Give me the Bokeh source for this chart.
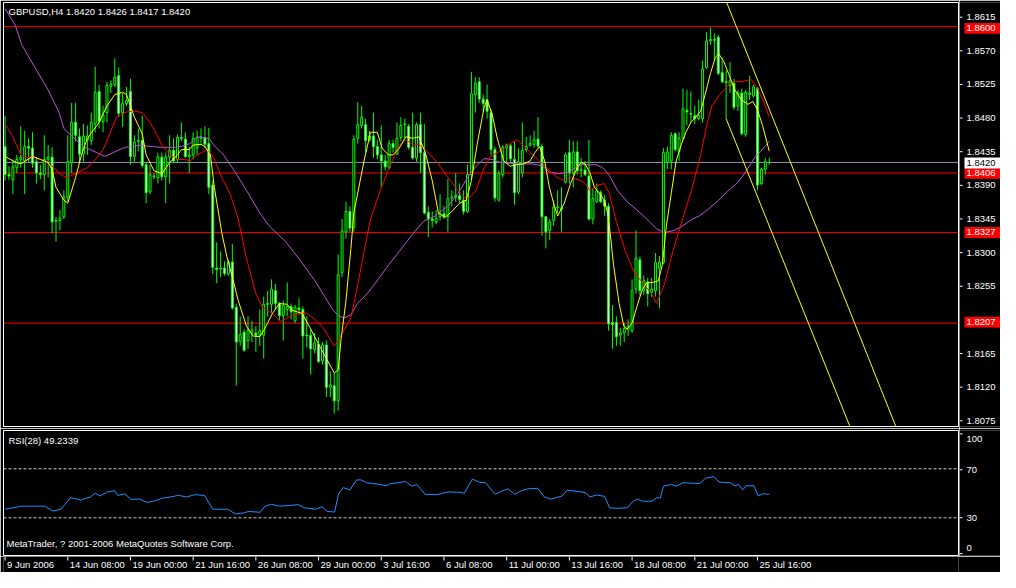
from bokeh.plotting import figure
from bokeh.models import Range1d, Span, Label, ColumnDataSource
from bokeh.layouts import column, row
from bokeh.core.properties import value
from bokeh.embed import file_html
from bokeh.resources import INLINE

# ---------------- data (GBPUSD H4) ----------------
bar_open = [
    1.8441, 1.8404, 1.8397, 1.8413, 1.8424, 1.8422, 1.8441, 1.8439, 1.8421, 1.8406,
    1.8404, 1.8424, 1.8427, 1.8342, 1.8343, 1.8348, 1.8374, 1.8420, 1.8473, 1.8454,
    1.8431, 1.8450, 1.8449, 1.8471, 1.8514, 1.8474, 1.8486, 1.8521, 1.8523, 1.8535,
    1.8486, 1.8498, 1.8514, 1.8428, 1.8448, 1.8449, 1.8417, 1.8381, 1.8401, 1.8400,
    1.8427, 1.8401, 1.8427, 1.8436, 1.8424, 1.8453, 1.8451, 1.8428, 1.8430, 1.8439,
    1.8452, 1.8453, 1.8445, 1.8390, 1.8280, 1.8279, 1.8280, 1.8272, 1.8288, 1.8228,
    1.8183, 1.8195, 1.8184, 1.8194, 1.8194, 1.8191, 1.8191, 1.8232, 1.8232, 1.8250,
    1.8233, 1.8217, 1.8225, 1.8229, 1.8210, 1.8227, 1.8225, 1.8191, 1.8191, 1.8172,
    1.8179, 1.8157, 1.8178, 1.8122, 1.8124, 1.8104, 1.8274, 1.8328, 1.8355, 1.8334,
    1.8452, 1.8469, 1.8470, 1.8450, 1.8455, 1.8441, 1.8430, 1.8422, 1.8413, 1.8445,
    1.8431, 1.8453, 1.8470, 1.8468, 1.8440, 1.8426, 1.8470, 1.8433, 1.8354, 1.8345,
    1.8341, 1.8348, 1.8352, 1.8348, 1.8373, 1.8374, 1.8376, 1.8370, 1.8355, 1.8404,
    1.8510, 1.8527, 1.8504, 1.8503, 1.8486, 1.8437, 1.8370, 1.8404, 1.8439, 1.8442,
    1.8424, 1.8381, 1.8406, 1.8437, 1.8443, 1.8444, 1.8451, 1.8441, 1.8348, 1.8330,
    1.8343, 1.8360, 1.8358, 1.8394, 1.8433, 1.8406, 1.8434, 1.8409, 1.8410, 1.8402,
    1.8345, 1.8368, 1.8380, 1.8370, 1.8362, 1.8208, 1.8208, 1.8191, 1.8194, 1.8199,
    1.8197, 1.8252, 1.8291, 1.8250, 1.8261, 1.8248, 1.8250, 1.8280, 1.8287, 1.8420,
    1.8422, 1.8458, 1.8435, 1.8452, 1.8489, 1.8485, 1.8482, 1.8478, 1.8478, 1.8546,
    1.8581, 1.8583, 1.8586, 1.8539, 1.8527, 1.8522, 1.8525, 1.8495, 1.8512, 1.8457,
    1.8510, 1.8508, 1.8518, 1.8392, 1.8411, 1.8420,
]
bar_high = [
    1.8482, 1.8415, 1.8424, 1.8430, 1.8468, 1.8462, 1.8452, 1.8460, 1.8426, 1.8417,
    1.8456, 1.8443, 1.8440, 1.8348, 1.8357, 1.8383, 1.8456, 1.8499, 1.8499, 1.8465,
    1.8471, 1.8469, 1.8486, 1.8547, 1.8523, 1.8495, 1.8527, 1.8529, 1.8558, 1.8546,
    1.8512, 1.8520, 1.8531, 1.8456, 1.8465, 1.8482, 1.8421, 1.8417, 1.8406, 1.8433,
    1.8433, 1.8433, 1.8456, 1.8452, 1.8457, 1.8473, 1.8460, 1.8441, 1.8460, 1.8462,
    1.8465, 1.8468, 1.8466, 1.8396, 1.8314, 1.8302, 1.8289, 1.8291, 1.8312, 1.8233,
    1.8216, 1.8199, 1.8216, 1.8210, 1.8203, 1.8225, 1.8242, 1.8250, 1.8265, 1.8259,
    1.8235, 1.8237, 1.8261, 1.8233, 1.8231, 1.8240, 1.8229, 1.8216, 1.8199, 1.8194,
    1.8188, 1.8182, 1.8184, 1.8143, 1.8141, 1.8298, 1.8345, 1.8368, 1.8362, 1.8456,
    1.8500, 1.8495, 1.8478, 1.8462, 1.8486, 1.8450, 1.8469, 1.8430, 1.8450, 1.8450,
    1.8473, 1.8480, 1.8478, 1.8471, 1.8486, 1.8473, 1.8486, 1.8471, 1.8362, 1.8355,
    1.8357, 1.8378, 1.8362, 1.8398, 1.8383, 1.8406, 1.8392, 1.8383, 1.8417, 1.8540,
    1.8533, 1.8533, 1.8510, 1.8523, 1.8490, 1.8441, 1.8409, 1.8443, 1.8445, 1.8445,
    1.8448, 1.8439, 1.8473, 1.8454, 1.8456, 1.8462, 1.8480, 1.8445, 1.8349, 1.8345,
    1.8370, 1.8383, 1.8387, 1.8433, 1.8450, 1.8448, 1.8448, 1.8426, 1.8422, 1.8450,
    1.8385, 1.8392, 1.8383, 1.8377, 1.8366, 1.8231, 1.8216, 1.8201, 1.8207, 1.8212,
    1.8265, 1.8330, 1.8295, 1.8270, 1.8267, 1.8267, 1.8300, 1.8296, 1.8439, 1.8441,
    1.8460, 1.8460, 1.8460, 1.8518, 1.8516, 1.8514, 1.8495, 1.8503, 1.8555, 1.8593,
    1.8599, 1.8591, 1.8589, 1.8559, 1.8542, 1.8553, 1.8531, 1.8516, 1.8518, 1.8516,
    1.8535, 1.8523, 1.8520, 1.8413, 1.8426, 1.8426,
]
bar_low = [
    1.8396, 1.8397, 1.8378, 1.8406, 1.8413, 1.8378, 1.8421, 1.8413, 1.8392, 1.8398,
    1.8383, 1.8400, 1.8326, 1.8315, 1.8330, 1.8345, 1.8368, 1.8406, 1.8448, 1.8421,
    1.8421, 1.8430, 1.8443, 1.8460, 1.8465, 1.8460, 1.8473, 1.8512, 1.8520, 1.8480,
    1.8467, 1.8495, 1.8417, 1.8421, 1.8435, 1.8413, 1.8366, 1.8378, 1.8398, 1.8392,
    1.8396, 1.8366, 1.8392, 1.8419, 1.8419, 1.8448, 1.8426, 1.8406, 1.8424, 1.8430,
    1.8445, 1.8439, 1.8378, 1.8272, 1.8260, 1.8268, 1.8270, 1.8270, 1.8225, 1.8124,
    1.8177, 1.8169, 1.8173, 1.8182, 1.8169, 1.8177, 1.8160, 1.8216, 1.8220, 1.8225,
    1.8210, 1.8184, 1.8216, 1.8212, 1.8207, 1.8218, 1.8160, 1.8175, 1.8139, 1.8167,
    1.8154, 1.8152, 1.8109, 1.8109, 1.8087, 1.8091, 1.8268, 1.8319, 1.8328, 1.8328,
    1.8445, 1.8465, 1.8433, 1.8448, 1.8426, 1.8424, 1.8387, 1.8409, 1.8411, 1.8433,
    1.8430, 1.8448, 1.8452, 1.8437, 1.8424, 1.8421, 1.8406, 1.8351, 1.8321, 1.8334,
    1.8338, 1.8343, 1.8345, 1.8328, 1.8362, 1.8368, 1.8366, 1.8351, 1.8353, 1.8396,
    1.8486, 1.8499, 1.8488, 1.8478, 1.8430, 1.8368, 1.8368, 1.8400, 1.8419, 1.8421,
    1.8364, 1.8378, 1.8400, 1.8433, 1.8441, 1.8439, 1.8439, 1.8323, 1.8306, 1.8317,
    1.8336, 1.8353, 1.8328, 1.8392, 1.8392, 1.8387, 1.8404, 1.8400, 1.8402, 1.8343,
    1.8338, 1.8366, 1.8366, 1.8349, 1.8197, 1.8173, 1.8177, 1.8177, 1.8182, 1.8190,
    1.8194, 1.8246, 1.8244, 1.8244, 1.8229, 1.8242, 1.8242, 1.8227, 1.8285, 1.8411,
    1.8411, 1.8435, 1.8422, 1.8450, 1.8469, 1.8473, 1.8471, 1.8476, 1.8473, 1.8544,
    1.8576, 1.8555, 1.8536, 1.8525, 1.8478, 1.8512, 1.8490, 1.8488, 1.8456, 1.8454,
    1.8503, 1.8506, 1.8383, 1.8390, 1.8404, 1.8417,
]
bar_close = [
    1.8404, 1.8402, 1.8414, 1.8424, 1.8427, 1.8441, 1.8439, 1.8419, 1.8406, 1.8404,
    1.8424, 1.8427, 1.8341, 1.8343, 1.8346, 1.8374, 1.8421, 1.8473, 1.8456, 1.8431,
    1.8455, 1.8455, 1.8473, 1.8513, 1.8474, 1.8483, 1.8522, 1.8524, 1.8533, 1.8485,
    1.8498, 1.8502, 1.8428, 1.8447, 1.8449, 1.8416, 1.8380, 1.8404, 1.8402, 1.8427,
    1.8401, 1.8427, 1.8436, 1.8422, 1.8453, 1.8452, 1.8428, 1.8430, 1.8452, 1.8453,
    1.8454, 1.8444, 1.8387, 1.8281, 1.8278, 1.8280, 1.8273, 1.8288, 1.8227, 1.8182,
    1.8192, 1.8171, 1.8198, 1.8198, 1.8191, 1.8197, 1.8232, 1.8233, 1.8252, 1.8233,
    1.8217, 1.8231, 1.8229, 1.8222, 1.8228, 1.8225, 1.8190, 1.8190, 1.8173, 1.8181,
    1.8156, 1.8178, 1.8122, 1.8125, 1.8104, 1.8271, 1.8329, 1.8355, 1.8333, 1.8451,
    1.8470, 1.8480, 1.8449, 1.8455, 1.8441, 1.8430, 1.8422, 1.8414, 1.8445, 1.8440,
    1.8452, 1.8469, 1.8471, 1.8440, 1.8426, 1.8470, 1.8433, 1.8353, 1.8345, 1.8343,
    1.8346, 1.8352, 1.8348, 1.8372, 1.8374, 1.8376, 1.8371, 1.8355, 1.8404, 1.8511,
    1.8525, 1.8504, 1.8498, 1.8488, 1.8437, 1.8373, 1.8406, 1.8440, 1.8443, 1.8425,
    1.8380, 1.8421, 1.8436, 1.8441, 1.8445, 1.8450, 1.8442, 1.8348, 1.8328, 1.8341,
    1.8361, 1.8361, 1.8360, 1.8430, 1.8406, 1.8434, 1.8409, 1.8411, 1.8404, 1.8345,
    1.8372, 1.8382, 1.8368, 1.8362, 1.8206, 1.8205, 1.8189, 1.8194, 1.8200, 1.8203,
    1.8250, 1.8293, 1.8250, 1.8263, 1.8246, 1.8252, 1.8287, 1.8288, 1.8433, 1.8434,
    1.8456, 1.8437, 1.8452, 1.8491, 1.8487, 1.8484, 1.8478, 1.8482, 1.8544, 1.8581,
    1.8583, 1.8582, 1.8538, 1.8527, 1.8526, 1.8528, 1.8493, 1.8512, 1.8458, 1.8513,
    1.8512, 1.8520, 1.8390, 1.8411, 1.8421, 1.8420,
]

# moving averages as (bar, price)
ma_fast = [
    (0, 1.8428), (2, 1.8422), (4, 1.8418), (7, 1.8428), (9, 1.8424), (11, 1.8420), (12, 1.8411),
    (13, 1.8387), (15, 1.8370), (16, 1.8366), (18, 1.8400), (19.5, 1.8430), (21, 1.8452),
    (24, 1.8473), (26, 1.8495), (28, 1.8510), (30, 1.8513), (31, 1.8510), (33, 1.8480),
    (35, 1.8458), (36, 1.8430), (38, 1.8409), (40, 1.8405), (42, 1.8420), (44, 1.8430),
    (45, 1.8437), (47, 1.8437), (48, 1.8443), (50, 1.8444), (51, 1.8441), (52.4, 1.8430),
    (53.4, 1.8387), (55.3, 1.8327), (56.6, 1.8295), (57.8, 1.8272), (59.5, 1.8237),
    (61.6, 1.8203), (63.25, 1.8190), (65, 1.8189), (66.2, 1.8199), (68.25, 1.8220),
    (70, 1.8233), (72, 1.8232), (73.25, 1.8224), (75.75, 1.8220), (77.8, 1.8201),
    (80, 1.8179), (82, 1.8160), (84, 1.8141), (85, 1.8145), (85.75, 1.8186), (87, 1.8237),
    (88.25, 1.8306), (89, 1.8353), (91.6, 1.8422), (93.25, 1.8460), (95, 1.8460),
    (96.2, 1.8439), (97.8, 1.8430), (99, 1.8430), (100.6, 1.8439), (102.25, 1.8454),
    (104, 1.8452), (105.6, 1.8454), (107.25, 1.8433), (109, 1.8396), (110.6, 1.8353),
    (112.25, 1.8347), (114, 1.8355), (116, 1.8366), (117.7, 1.8370), (119, 1.8396),
    (120.6, 1.8448), (122.25, 1.8493), (123, 1.8503), (124.3, 1.8484), (125.6, 1.8452),
    (127.25, 1.8422), (128.9, 1.8415), (130.6, 1.8417), (132.25, 1.8418), (134, 1.8422),
    (135.2, 1.8433), (136.4, 1.8441), (137.7, 1.8422), (138.9, 1.8387), (140.2, 1.8362),
    (141, 1.8349), (142.7, 1.8366), (144.3, 1.8392), (146, 1.8413), (147, 1.8420),
    (148, 1.8418), (149.2, 1.8407), (150.4, 1.8387), (151.7, 1.8379), (152.9, 1.8370),
    (153.75, 1.8353), (154.4, 1.8327), (155.25, 1.8285), (156.7, 1.8233), (157.9, 1.8203),
    (158.75, 1.8199), (160, 1.8207), (161.25, 1.8229), (162.5, 1.8250), (163.75, 1.8261),
    (165.4, 1.8261), (166.7, 1.8263), (167.75, 1.8285), (168.75, 1.8336), (170, 1.8379),
    (171.25, 1.8422), (172.5, 1.8443), (173.75, 1.8460), (175, 1.8473), (176.25, 1.8480),
    (177.5, 1.8488), (178.75, 1.8512), (180, 1.8538), (181.25, 1.8559), (182.1, 1.8564),
    (183.3, 1.8555), (184.6, 1.8538), (186.25, 1.8516), (187.9, 1.8503), (189.6, 1.8497),
    (190.8, 1.8501), (192, 1.8490), (193.3, 1.8469), (195, 1.8435),
]
ma_mid = [
    (0, 1.8471), (2, 1.8454), (4, 1.8430), (5.5, 1.8426), (7, 1.8428), (10, 1.8422),
    (12, 1.8415), (14, 1.8405), (15.5, 1.8400), (18, 1.8405), (21, 1.8413), (23, 1.8424),
    (25, 1.8437), (26.75, 1.8458), (28.4, 1.8480), (31, 1.8487), (33, 1.8488), (35, 1.8486),
    (37, 1.8473), (38.4, 1.8460), (40, 1.8443), (41.75, 1.8432), (44, 1.8424), (46, 1.8424),
    (47.2, 1.8422), (49, 1.8430), (51.6, 1.8437), (53.25, 1.8426), (55.3, 1.8400),
    (57.4, 1.8379), (59.5, 1.8345), (61.6, 1.8293), (64, 1.8246), (65.75, 1.8227),
    (68.25, 1.8220), (70.3, 1.8209), (72.8, 1.8216), (75, 1.8220), (77, 1.8220),
    (79, 1.8212), (81.2, 1.8201), (84, 1.8177), (85.3, 1.8186), (86.6, 1.8199),
    (88.25, 1.8214), (89.9, 1.8255), (91.6, 1.8302), (93.25, 1.8345), (95.75, 1.8383),
    (98, 1.8413), (100.6, 1.8443), (102.25, 1.8450), (104.3, 1.8443), (105.6, 1.8444),
    (107.25, 1.8437), (110.6, 1.8418), (113, 1.8400), (115.6, 1.8383), (118, 1.8370),
    (120.2, 1.8383), (122.25, 1.8413), (123.9, 1.8428), (126.4, 1.8435), (128.9, 1.8445),
    (130.6, 1.8450), (132.25, 1.8443), (134, 1.8433), (136, 1.8424), (137.25, 1.8418),
    (138.9, 1.8409), (141, 1.8400), (142.7, 1.8396), (144.3, 1.8400), (147, 1.8396),
    (148, 1.8392), (149.2, 1.8383), (151.25, 1.8390), (152.9, 1.8392), (154.2, 1.8379),
    (155.8, 1.8345), (158.3, 1.8302), (160.4, 1.8276), (162.9, 1.8259), (165, 1.8246),
    (166.25, 1.8233), (168.3, 1.8259), (170.4, 1.8302), (172.9, 1.8345), (175.4, 1.8387),
    (177.5, 1.8430), (179.2, 1.8473), (180.4, 1.8495), (182.1, 1.8508), (184.2, 1.8520),
    (185.8, 1.8527), (187.9, 1.8527), (189.6, 1.8529), (190.4, 1.8530), (192, 1.8518),
    (193.7, 1.8499), (195, 1.8480),
]
ma_slow = [
    (0, 1.8624), (2.6, 1.8602), (4.25, 1.8576), (7.6, 1.8546), (11, 1.8516), (13.8, 1.8486),
    (15, 1.8465), (17.2, 1.8454), (20, 1.8441), (23.4, 1.8433), (25.5, 1.8428),
    (27.6, 1.8433), (30.5, 1.8440), (32.6, 1.8441), (34.2, 1.8443), (37.6, 1.8441),
    (40, 1.8440), (42.6, 1.8440), (45, 1.8441), (47.2, 1.8445), (49, 1.8454), (52, 1.8452),
    (53.25, 1.8443), (55.75, 1.8430), (58.25, 1.8411), (61.6, 1.8383), (65, 1.8353),
    (67.4, 1.8336), (71.6, 1.8315), (74.9, 1.8293), (79.1, 1.8263), (81.6, 1.8242),
    (83.7, 1.8224), (85.3, 1.8216), (86.6, 1.8214), (88.25, 1.8218), (89.9, 1.8233),
    (92.4, 1.8246), (94.9, 1.8263), (98, 1.8285), (100.6, 1.8302), (104.3, 1.8327),
    (106.8, 1.8342), (109.75, 1.8349), (113, 1.8362), (115.6, 1.8379), (118, 1.8400),
    (120.2, 1.8415), (122.25, 1.8425), (124.3, 1.8424), (126.4, 1.8420), (130.6, 1.8418),
    (134.75, 1.8418), (137.25, 1.8415), (138.9, 1.8407), (141.4, 1.8405), (143.5, 1.8407),
    (145.6, 1.8413), (147, 1.8417), (150.8, 1.8417), (152.5, 1.8413), (154.2, 1.8403),
    (156.25, 1.8383), (158.75, 1.8368), (161.25, 1.8357), (163.75, 1.8345),
    (166.25, 1.8332), (168.3, 1.8327), (170.8, 1.8330), (172.9, 1.8336), (175.4, 1.8345),
    (177.1, 1.8349), (179.2, 1.8357), (182.1, 1.8370), (184.6, 1.8383), (187.1, 1.8394),
    (189.2, 1.8409), (191.25, 1.8426), (192.9, 1.8435), (195, 1.8448),
]
rsi_points = [
    (0, 37.0), (4.25, 39.5), (7.6, 39.5), (10.1, 39.5), (12.2, 35.5), (14.25, 37.0),
    (16.75, 46.5), (19.25, 44.5), (21.75, 47.0), (23, 50.1), (24.25, 47.8), (25.9, 50.8),
    (28, 52.1), (28.8, 48.3), (30.5, 49.6), (32.2, 45.0), (34.25, 45.3), (36.3, 42.5),
    (38.4, 44.0), (40.1, 46.0), (42.2, 47.0), (44.25, 48.3), (46.3, 47.0), (48.4, 48.8),
    (50.9, 48.3), (53, 37.0), (56.75, 37.0), (58.8, 33.2), (60.9, 34.0), (62.2, 35.2),
    (65.1, 34.5), (66.3, 39.5), (68, 41.0), (70.1, 39.5), (72.6, 40.0), (74.7, 40.8),
    (76.3, 38.3), (79.25, 37.0), (80.9, 39.0), (82.2, 35.2), (84.1, 34.7), (85.1, 49.6),
    (86.3, 54.6), (88, 52.8), (89.7, 60.9), (90.9, 60.9), (92.2, 58.6), (95.9, 57.1),
    (97.2, 56.1), (98.4, 57.9), (100.5, 58.6), (102.2, 59.6), (103.8, 55.8), (105.1, 57.1),
    (107.2, 49.1), (110.5, 49.1), (113, 51.1), (115.9, 50.8), (117.2, 50.1), (119.25, 61.6),
    (120.9, 59.1), (122.6, 58.6), (125.1, 49.1), (126.6, 51.6), (128.4, 53.6), (130.1, 49.1),
    (131.75, 52.1), (133.4, 53.6), (135.9, 54.1), (137.6, 47.0), (139.25, 45.3),
    (142.2, 47.8), (143.4, 52.6), (145.9, 51.6), (148, 50.6), (149.25, 47.0), (150.9, 48.6),
    (153, 47.5), (154.25, 38.2), (155.9, 37.7), (158.8, 38.2), (160.1, 43.0), (161.3, 45.3),
    (162.6, 43.5), (165.1, 43.5), (166.3, 46.5), (167.2, 46.0), (168, 55.8), (169.25, 56.6),
    (170.1, 57.1), (171.3, 55.8), (173, 58.6), (177.2, 57.9), (178.8, 62.4), (180.9, 63.6),
    (182.2, 59.1), (185.1, 58.6), (186.3, 56.1), (187.2, 57.1), (188.25, 52.8), (189.1, 56.1),
    (191.1, 56.1), (192.2, 47.8), (193.4, 49.6), (195, 49.2),
]

price_ticks = [1.8615, 1.8570, 1.8525, 1.8480, 1.8435, 1.8390, 1.8345, 1.8300,
               1.8255, 1.8165, 1.8120, 1.8075]
time_tick_bars = [0, 16, 32, 48, 64, 80, 96, 112, 128, 144, 160, 176, 192]
time_tick_labels = ["9 Jun 2006", "14 Jun 08:00", "19 Jun 00:00", "21 Jun 16:00",
                    "26 Jun 08:00", "29 Jun 00:00", "3 Jul 16:00", "6 Jul 08:00",
                    "11 Jul 00:00", "13 Jul 16:00", "18 Jul 08:00", "21 Jul 00:00",
                    "25 Jul 16:00"]
level_lines = [1.8600, 1.8406, 1.8327, 1.8207]
bid_price = 1.8420
last_ohlc = [1.8420, 1.8426, 1.8417, 1.8420]
channel_x0 = [182.0, 184.0]
channel_y0 = [1.8660, 1.8478]
channel_x1 = [230.0, 218.0]
channel_y1 = [1.8035, 1.8039]
rsi_levels = [70, 30]
rsi_axis_ticks = [0, 30, 70, 100]
rsi_last = 49.2339

# ---------------- styling / geometry ----------------
FONT = "Liberation Sans"
FS = "9.5px"
LIME = "#00FF00"
X0, X1 = -0.4, 243.3
Y0, Y1 = 1.8070, 1.8632
R0, R1 = -0.75, 101.2

MAIN_W, AXIS_W, LEFT_B = 959, 41, 3
P_H, P_TOP, P_BOT = 428, 2, 2
Q_H, Q_TOP, Q_BOT = 128, 2, 1
T_H = 16
PPU = (P_H - P_TOP - P_BOT) / (Y1 - Y0)     # pixels per price unit
PPR = (Q_H - Q_TOP - Q_BOT) / (R1 - R0)     # pixels per RSI unit
BOX_HALF = 5.5                               # half height of price boxes, px


def dark(fig):
    fig.background_fill_color = "black"
    fig.border_fill_color = "black"
    fig.grid.visible = False


xr = Range1d(X0, X1)

# ---------------- main price pane ----------------
p = figure(width=MAIN_W, height=P_H, x_range=xr, y_range=Range1d(Y0, Y1),
           output_backend="svg", toolbar_location=None, x_axis_location=None,
           y_axis_location=None, min_border_left=LEFT_B, min_border_right=1,
           min_border_top=P_TOP, min_border_bottom=P_BOT)
dark(p)
p.outline_line_color = "white"

for lvl in level_lines:
    p.add_layout(Span(location=lvl, dimension="width", line_color="#FF0000",
                      line_width=1, level="underlay"))
p.add_layout(Span(location=bid_price, dimension="width", line_color="#8C98A8",
                  line_width=1, level="underlay"))

n = len(bar_open)
src = ColumnDataSource(dict(
    x=list(range(n)),
    high=bar_high, low=bar_low,
    top=[max(o, c) for o, c in zip(bar_open, bar_close)],
    bottom=[min(o, c) for o, c in zip(bar_open, bar_close)],
    fill=["black" if c >= o else "white" for o, c in zip(bar_open, bar_close)],
))
p.segment(x0="x", y0="high", x1="x", y1="low", source=src, line_color=LIME, line_width=1)
p.vbar(x="x", width=0.5, top="top", bottom="bottom", fill_color="fill",
       line_color=LIME, line_width=1, source=src)

p.line([a for a, b in ma_slow], [b for a, b in ma_slow], line_color="#BA55D3", line_width=1)
p.line([a for a, b in ma_mid], [b for a, b in ma_mid], line_color="#FF0000", line_width=1)
p.line([a for a, b in ma_fast], [b for a, b in ma_fast], line_color="#FFFF00", line_width=1)

p.segment(x0=channel_x0, y0=channel_y0, x1=channel_x1, y1=channel_y1,
          line_color="#FFFF00", line_width=1)

title_txt = "GBPUSD,H4  " + " ".join(f"{v:.4f}" for v in last_ohlc)
p.add_layout(Label(x=X0, y=Y1 - 3 / PPU, x_offset=5, text=title_txt, text_align="left",
                   text_baseline="top", text_color="white", text_font=FONT, text_font_size=FS))

# ---------------- price scale strip ----------------
pa = figure(width=AXIS_W, height=P_H, x_range=Range1d(0, AXIS_W),
            y_range=Range1d(Y0 - P_BOT / PPU, Y1 + P_TOP / PPU),
            output_backend="svg", toolbar_location=None, x_axis_location=None,
            y_axis_location=None, min_border=0)
dark(pa)
pa.outline_line_color = None
pa.segment(x0=0, y0=price_ticks, x1=3, y1=price_ticks, line_color="white", line_width=1)
pa.text(x=7, y=price_ticks, text=[f"{t:.4f}" for t in price_ticks], text_color="white",
        text_font=value(FONT), text_font_size=value(FS), text_align="left",
        text_baseline="middle")
h = BOX_HALF / PPU
pa.quad(left=5, right=AXIS_W, top=[v + h for v in level_lines],
        bottom=[v - h for v in level_lines], fill_color="#FF0000", line_color=None)
pa.text(x=7, y=level_lines, text=[f"{v:.4f}" for v in level_lines], text_color="white",
        text_font=value(FONT), text_font_size=value(FS), text_align="left",
        text_baseline="middle")
pa.quad(left=5, right=AXIS_W, top=[bid_price + h], bottom=[bid_price - h],
        fill_color="white", line_color=None)
pa.text(x=7, y=[bid_price], text=[f"{bid_price:.4f}"], text_color="black",
        text_font=value(FONT), text_font_size=value(FS), text_align="left",
        text_baseline="middle")

# ---------------- RSI pane ----------------
q = figure(width=MAIN_W, height=Q_H, x_range=xr, y_range=Range1d(R0, R1),
           output_backend="svg", toolbar_location=None, x_axis_location=None,
           y_axis_location=None, min_border_left=LEFT_B, min_border_right=1,
           min_border_top=Q_TOP, min_border_bottom=Q_BOT)
dark(q)
q.outline_line_color = "white"
for lv in rsi_levels:
    q.add_layout(Span(location=lv, dimension="width", line_color="#C8C8C8",
                      line_width=1, line_dash="3 2", level="underlay"))
q.line([a for a, b in rsi_points], [b for a, b in rsi_points], line_color="#1E90FF", line_width=1)
q.add_layout(Label(x=X0, y=R1 - 4 / PPR, x_offset=5, text=f"RSI(28) {rsi_last:.4f}",
                   text_align="left", text_baseline="top", text_color="white",
                   text_font=FONT, text_font_size=FS))
q.add_layout(Label(x=X0, y=R0 + 7 / PPR, x_offset=3,
                   text="MetaTrader, ? 2001-2006 MetaQuotes Software Corp.",
                   text_align="left", text_baseline="bottom", text_color="white",
                   text_font=FONT, text_font_size=FS))

# RSI scale strip
qa = figure(width=AXIS_W, height=Q_H, x_range=Range1d(0, AXIS_W),
            y_range=Range1d(R0 - Q_BOT / PPR, R1 + Q_TOP / PPR),
            output_backend="svg", toolbar_location=None, x_axis_location=None,
            y_axis_location=None, min_border=0)
dark(qa)
qa.outline_line_color = None
qa.segment(x0=0, y0=rsi_axis_ticks, x1=3, y1=rsi_axis_ticks, line_color="white", line_width=1)
# MetaTrader draws the end labels inside the pane: 100 a little below, 0 a little above
label_pos = [t + (6 / PPR if t == min(rsi_axis_ticks) else
                  -5.5 / PPR if t == max(rsi_axis_ticks) else 0) for t in rsi_axis_ticks]
qa.text(x=7, y=label_pos, text=[str(t) for t in rsi_axis_ticks], text_color="white",
        text_font=value(FONT), text_font_size=value(FS), text_align="left",
        text_baseline="middle")

# ---------------- time scale strip ----------------
t = figure(width=MAIN_W + AXIS_W, height=T_H, x_range=xr, y_range=Range1d(0, T_H),
           output_backend="svg", toolbar_location=None, x_axis_location=None,
           y_axis_location=None, min_border_left=LEFT_B, min_border_right=AXIS_W + 1,
           min_border_top=0, min_border_bottom=0)
dark(t)
t.outline_line_color = None
t.segment(x0=time_tick_bars, y0=T_H, x1=time_tick_bars, y1=T_H - 4,
          line_color="white", line_width=1)
t.text(x=time_tick_bars, y=T_H - 2, x_offset=2, text=time_tick_labels, text_color="white",
       text_font=value(FONT), text_font_size=value(FS), text_align="left",
       text_baseline="top")

layout = column(row(p, pa), row(q, qa), t)
open("out.html", "w").write(file_html(layout, INLINE))
